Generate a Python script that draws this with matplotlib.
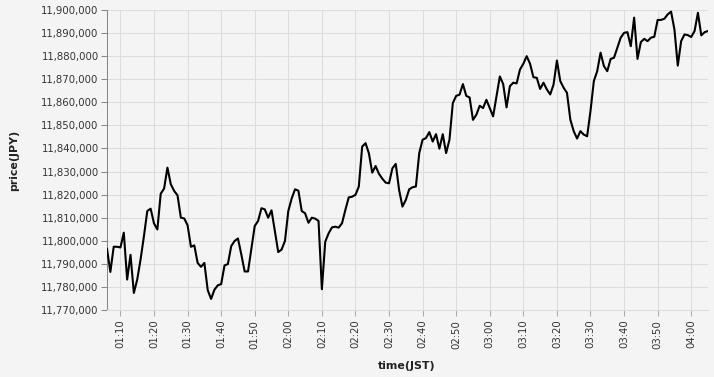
import matplotlib
matplotlib.use("Agg")
import matplotlib.pyplot as plt
import matplotlib.dates as mdates
from matplotlib.ticker import FuncFormatter
import pandas as pd

# one price per minute, starting 01:06 JST
start_time = "2024-01-01 01:06"
prices = [
    11796500, 11786500, 11797400, 11797400, 11797100, 11803500, 11783200, 11793900, 11777400, 11783200,
    11791900, 11802000, 11812900, 11813900, 11807500, 11804900, 11820400, 11822600, 11831700, 11824500,
    11821600, 11819700, 11810000, 11809700, 11806700, 11797400, 11798000, 11790400, 11788700, 11790400,
    11778600, 11774800, 11778800, 11780700, 11781200, 11789300, 11789900, 11797700, 11799900, 11801000,
    11794100, 11786700, 11786700, 11796500, 11806400, 11808600, 11814100, 11813600, 11810000, 11813200,
    11804200, 11795100, 11796200, 11799900, 11812900, 11818300, 11822300, 11821700, 11812900, 11811900,
    11807800, 11810000, 11809600, 11808600, 11779000, 11799600, 11803200, 11805800, 11806100, 11805700,
    11807600, 11813400, 11818800, 11819100, 11819900, 11823500, 11840800, 11842300, 11837900, 11829500,
    11832400, 11829000, 11826900, 11825200, 11824900, 11831400, 11833300, 11822000, 11814800, 11817700,
    11822300, 11823200, 11823500, 11838000, 11843800, 11844500, 11847100, 11843000, 11846200, 11839900,
    11846200, 11838000, 11843800, 11859700, 11862800, 11863300, 11867900, 11862800, 11862100, 11852400,
    11854600, 11858500, 11857500, 11861100, 11857500, 11853900, 11862500, 11871200, 11867900, 11857800,
    11867000, 11868500, 11868200, 11874200, 11876700, 11880000, 11876700, 11870900, 11870600, 11865800,
    11868500, 11865600, 11863400, 11867700, 11878100, 11869200, 11866300, 11864100, 11852500, 11847500,
    11844300, 11847500, 11846000, 11845300, 11856200, 11869200, 11873500, 11881500, 11875700, 11873500,
    11878800, 11879300, 11883600, 11888000, 11890100, 11890400, 11884300, 11896700, 11878800, 11886100,
    11887500, 11886500, 11888000, 11888400, 11895700, 11895700, 11896200, 11898100, 11899300, 11891600,
    11875900, 11886500, 11889400, 11889100, 11888300, 11890900, 11898800, 11889000, 11890400, 11890900,
]
times = pd.date_range(start_time, periods=len(prices), freq="1min")

y_min, y_max = 11770000, 11900000

bg = "#f4f4f4"
W, H = 714, 377
fig = plt.figure(figsize=(W / 100, H / 100), dpi=100, facecolor=bg)
ax = fig.add_axes([107 / W, (H - 310) / H, 601 / W, 300 / H], facecolor=bg)

ax.plot(times, prices, color="black", linewidth=1.5, zorder=3)

ax.set_xlim(times[0], times[-1])
ax.set_ylim(y_min, y_max)
ax.set_yticks(range(y_min, y_max + 1, 10000))
ax.yaxis.set_major_formatter(FuncFormatter(lambda v, _: f"{int(v):,}"))

ax.xaxis.set_major_locator(mdates.MinuteLocator(byminute=range(0, 60, 10)))
ax.xaxis.set_major_formatter(mdates.DateFormatter("%H:%M"))

ax.grid(True, color="#dddddd", linewidth=0.75, zorder=0)
for side in ["top", "right"]:
    ax.spines[side].set_visible(False)
ax.spines["left"].set_color("#888888")
ax.spines["left"].set_linewidth(0.75)
ax.spines["bottom"].set_color("#dddddd")
ax.spines["bottom"].set_linewidth(0.75)

ax.tick_params(axis="y", length=4, width=0.75, color="#888888",
               labelsize=7.3, labelcolor="#333333", pad=2)
ax.tick_params(axis="x", length=4, width=0.75, color="#aaaaaa",
               labelsize=7.3, labelcolor="#333333", pad=3, labelrotation=90)

fig.text(14 / W, 1 - 160 / H, "price(JPY)", rotation=90, ha="center", va="center",
         fontsize=7.9, fontweight="bold", color="#222222")
fig.text(407 / W, 1 - 366 / H, "time(JST)", ha="center", va="center",
         fontsize=7.9, fontweight="bold", color="#222222")

fig.savefig("out.png", dpi=100, facecolor=bg)
